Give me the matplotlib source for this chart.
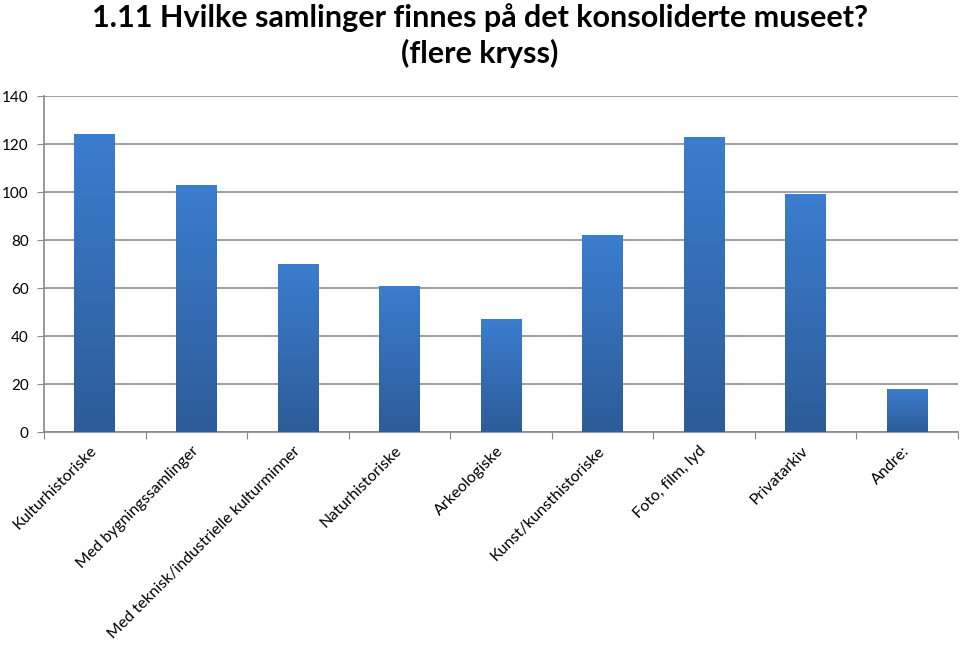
import numpy as np
import matplotlib.pyplot as plt
from matplotlib.colors import LinearSegmentedColormap

# Data
categories = ['Kulturhistoriske', 'Med bygningssamlinger',
              'Med teknisk/industrielle kulturminner', 'Naturhistoriske',
              'Arkeologiske', 'Kunst/kunsthistoriske', 'Foto, film, lyd',
              'Privatarkiv', 'Andre:']
values = [124, 103, 70, 61, 47, 82, 123, 99, 18]
y_ticks = [0, 20, 40, 60, 80, 100, 120, 140]

plt.rcParams['font.family'] = ['Lato', 'DejaVu Sans']

fig = plt.figure(figsize=(9.6, 6.56), dpi=100)
ax = fig.add_axes([44 / 960, 1 - 432 / 656, 914 / 960, 336 / 656])

x = np.arange(len(categories))
bars = ax.bar(x, values, width=0.4, color='none', zorder=3)

# gradient fill in each bar (lighter at top, darker at bottom)
cmap = LinearSegmentedColormap.from_list('bar', ['#2d5c98', '#3b7dcf'])
grad = np.linspace(0, 1, 256).reshape(-1, 1)
for b in bars:
    x0, y0 = b.get_x(), b.get_y()
    w, h = b.get_width(), b.get_height()
    im = ax.imshow(grad, cmap=cmap, origin='lower', aspect='auto',
                   extent=[x0, x0 + w, y0, y0 + h], zorder=3)
    im.set_clip_path(b)

ax.set_xlim(-0.5, len(categories) - 0.5)
ax.set_ylim(0, 140)
ax.set_yticks(y_ticks)
ax.tick_params(axis='y', labelsize=11, length=5, color='#888888', pad=6)
ax.yaxis.grid(True, color='#8c8c8c', linewidth=1.2, zorder=0)
ax.set_axisbelow(True)

# category boundaries ticks
ax.set_xticks(np.arange(-0.5, len(categories)), minor=False)
ax.set_xticklabels([])
ax.set_xticks(x, minor=True)
ax.set_xticklabels(categories, minor=True, rotation=45, ha='right',
                   va='center', rotation_mode='anchor', fontsize=11.5)
ax.tick_params(axis='x', which='major', length=5, color='#888888')
ax.tick_params(axis='x', which='minor', length=0, pad=12)

for s in ['top', 'right']:
    ax.spines[s].set_visible(False)
for s in ['left', 'bottom']:
    ax.spines[s].set_color('#888888')
    ax.spines[s].set_linewidth(1.2)

fig.text(0.5, 0.995, '1.11 Hvilke samlinger finnes på det konsoliderte museet?\n(flere kryss)',
         ha='center', va='top', fontsize=22, fontweight='bold', linespacing=1.3)

fig.savefig('out.png', dpi=100)
